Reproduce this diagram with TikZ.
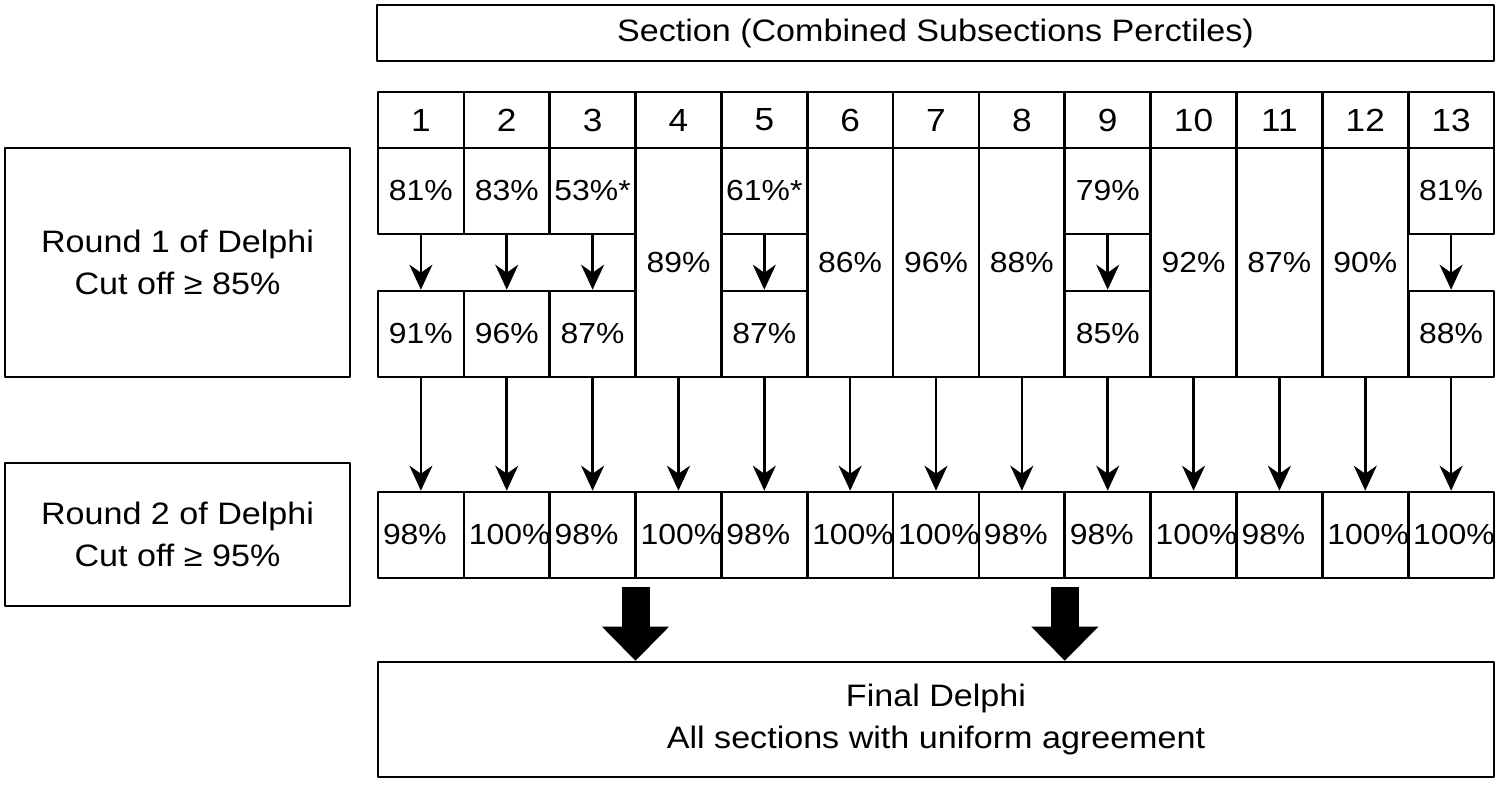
\documentclass[tikz,border=0pt]{standalone}
\usepackage{fontspec}
\setmainfont[FakeStretch=1.1]{Liberation Sans}
\usetikzlibrary{arrows.meta}
\begin{document}
\begin{tikzpicture}[x=0.5pt,y=-0.5pt,line width=1.3pt,line join=round,
	>={Stealth[length=12.5pt,width=11.5pt,inset=4pt]},
	box/.style={draw,inner sep=0pt,align=center},
	cell/.style={box,minimum width=42.9pt,minimum height=43pt,font=\fontsize{14.5}{17}\selectfont},
	tallcell/.style={cell,minimum height=114.5pt},
	numcell/.style={cell,minimum height=28pt,font=\fontsize{16}{19}\selectfont},
	leftcell/.style={cell,text width=37.9pt,inner xsep=2.5pt,align=left},
	roundbox/.style={box,font=\fontsize{15.5}{21}\selectfont},
	bigarrow/.style={line width=14pt,-{Triangle[length=17pt,width=33.5pt,line width=0pt]}}]
	\useasboundingbox (0,0) rectangle (1499,786);
	% Tiêu đề và hàng số thứ tự
	\node[roundbox,minimum width=558.5pt,minimum height=28pt] (title) at (935.5,33) {Section (Combined Subsections Perctiles)};
	\foreach \i in {1,...,13}{
		\node[numcell] (n\i) at ({420.9+85.85*(\i-1)},120) {\i};
	}
	% Vòng 1
	\node[roundbox,minimum width=172.5pt,minimum height=114.5pt] (r1) at (177.5,262.5) {Round 1 of Delphi\\Cut off ≥ 85\%};
	\foreach \i/\a/\b in {1/81\%/91\%,2/83\%/96\%,3/53\%*/87\%,5/61\%*/87\%,9/79\%/85\%,13/81\%/88\%}{
		\node[cell] (s\i) at ({420.9+85.85*(\i-1)},191) {\a};
		\node[cell] (a\i) at ({420.9+85.85*(\i-1)},334) {\b};
		\draw[->] (s\i) -- (a\i);
	}
	\foreach \i/\v in {4/89,6/86,7/96,8/88,10/92,11/87,12/90}{
		\node[tallcell] (a\i) at ({420.9+85.85*(\i-1)},262.5) {\v\%};
	}
	% Vòng 2
	\node[roundbox,minimum width=172.5pt,minimum height=71.5pt] (r2) at (177.5,534.5) {Round 2 of Delphi\\Cut off ≥ 95\%};
	\foreach \i/\v in {1/98,2/100,3/98,4/100,5/98,6/100,7/100,8/98,9/98,10/100,11/98,12/100,13/100}{
		\node[leftcell] (b\i) at ({420.9+85.85*(\i-1)},535) {\v\%};
		\draw[->] (a\i) -- (b\i);
	}
	% Kết quả cuối
	\node[roundbox,minimum width=558pt,minimum height=57.5pt] (fin) at (936,719.5) {Final Delphi\\All sections with uniform agreement};
	\path (635.5,587) coordinate (f1)
	(1064.8,587) coordinate (f2);
	\draw[bigarrow] (f1) -- (f1 |- fin.north);
	\draw[bigarrow] (f2) -- (f2 |- fin.north);
\end{tikzpicture}
\end{document}
